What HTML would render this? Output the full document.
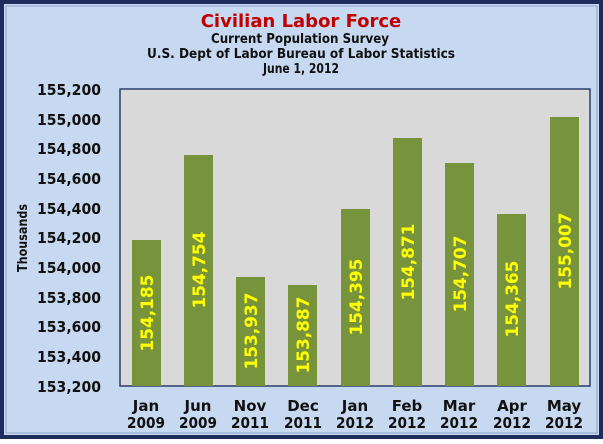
<!DOCTYPE html>
<html><head><style>
html,body{margin:0;padding:0;}
body{width:603px;height:439px;overflow:hidden;}
</style></head><body>
<svg width="603" height="439" xmlns="http://www.w3.org/2000/svg" font-family="DejaVu Sans, Verdana, sans-serif" font-weight="bold">
<rect x="0" y="0" width="603" height="439" fill="#1f2d5c"/>
<rect x="4" y="4" width="595" height="431" fill="#c6d9f1"/>
<rect x="6" y="6" width="591" height="427" fill="none" stroke="#8aa2c8" stroke-width="1"/>
<text x="301" y="27" text-anchor="middle" font-size="18" fill="#c00000">Civilian Labor Force</text>
<text x="300" y="43" text-anchor="middle" font-size="13" fill="#111" textLength="178" lengthAdjust="spacingAndGlyphs">Current Population Survey</text>
<text x="301" y="58" text-anchor="middle" font-size="13" fill="#111" textLength="308" lengthAdjust="spacingAndGlyphs">U.S. Dept of Labor Bureau of Labor Statistics</text>
<text x="301" y="73" text-anchor="middle" font-size="13" fill="#111" textLength="76" lengthAdjust="spacingAndGlyphs">June 1, 2012</text>
<rect x="120" y="89" width="470" height="297" fill="#d9d9d9" stroke="#2a3d6e" stroke-width="1.5"/>
<g font-size="15" fill="#111">
<text x="37" y="95" textLength="64" lengthAdjust="spacingAndGlyphs">155,200</text>
<text x="37" y="125" textLength="64" lengthAdjust="spacingAndGlyphs">155,000</text>
<text x="37" y="154" textLength="64" lengthAdjust="spacingAndGlyphs">154,800</text>
<text x="37" y="184" textLength="64" lengthAdjust="spacingAndGlyphs">154,600</text>
<text x="37" y="214" textLength="64" lengthAdjust="spacingAndGlyphs">154,400</text>
<text x="37" y="243" textLength="64" lengthAdjust="spacingAndGlyphs">154,200</text>
<text x="37" y="273" textLength="64" lengthAdjust="spacingAndGlyphs">154,000</text>
<text x="37" y="303" textLength="64" lengthAdjust="spacingAndGlyphs">153,800</text>
<text x="37" y="332" textLength="64" lengthAdjust="spacingAndGlyphs">153,600</text>
<text x="37" y="362" textLength="64" lengthAdjust="spacingAndGlyphs">153,400</text>
<text x="37" y="392" textLength="64" lengthAdjust="spacingAndGlyphs">153,200</text>
</g>
<text transform="translate(27,238) rotate(-90)" text-anchor="middle" font-size="13" fill="#111" textLength="68" lengthAdjust="spacingAndGlyphs">Thousands</text>
<g fill="#77933c">
<rect x="132" y="240" width="29" height="146"/>
<rect x="184" y="155" width="29" height="231"/>
<rect x="236" y="277" width="29" height="109"/>
<rect x="288" y="285" width="29" height="101"/>
<rect x="341" y="209" width="29" height="177"/>
<rect x="393" y="138" width="29" height="248"/>
<rect x="445" y="163" width="29" height="223"/>
<rect x="497" y="214" width="29" height="172"/>
<rect x="550" y="117" width="29" height="269"/>
</g>
<g font-size="17" fill="#ffff00" text-anchor="middle" lengthAdjust="spacingAndGlyphs">
<text transform="translate(153,313) rotate(-90)" textLength="77">154,185</text>
<text transform="translate(205,270) rotate(-90)" textLength="77">154,754</text>
<text transform="translate(257,331) rotate(-90)" textLength="77">153,937</text>
<text transform="translate(309,335) rotate(-90)" textLength="77">153,887</text>
<text transform="translate(362,297) rotate(-90)" textLength="77">154,395</text>
<text transform="translate(414,262) rotate(-90)" textLength="77">154,871</text>
<text transform="translate(466,274) rotate(-90)" textLength="77">154,707</text>
<text transform="translate(518,299) rotate(-90)" textLength="77">154,365</text>
<text transform="translate(571,251) rotate(-90)" textLength="77">155,007</text>
</g>
<g font-size="15" fill="#111" text-anchor="middle">
<text x="146" y="411">Jan</text><text x="146" y="428" textLength="38" lengthAdjust="spacingAndGlyphs">2009</text>
<text x="198" y="411">Jun</text><text x="198" y="428" textLength="38" lengthAdjust="spacingAndGlyphs">2009</text>
<text x="250" y="411">Nov</text><text x="250" y="428" textLength="38" lengthAdjust="spacingAndGlyphs">2011</text>
<text x="303" y="411">Dec</text><text x="303" y="428" textLength="38" lengthAdjust="spacingAndGlyphs">2011</text>
<text x="355" y="411">Jan</text><text x="355" y="428" textLength="38" lengthAdjust="spacingAndGlyphs">2012</text>
<text x="407" y="411">Feb</text><text x="407" y="428" textLength="38" lengthAdjust="spacingAndGlyphs">2012</text>
<text x="459" y="411">Mar</text><text x="459" y="428" textLength="38" lengthAdjust="spacingAndGlyphs">2012</text>
<text x="512" y="411">Apr</text><text x="512" y="428" textLength="38" lengthAdjust="spacingAndGlyphs">2012</text>
<text x="564" y="411">May</text><text x="564" y="428" textLength="38" lengthAdjust="spacingAndGlyphs">2012</text>
</g>
</svg>
</body></html>
